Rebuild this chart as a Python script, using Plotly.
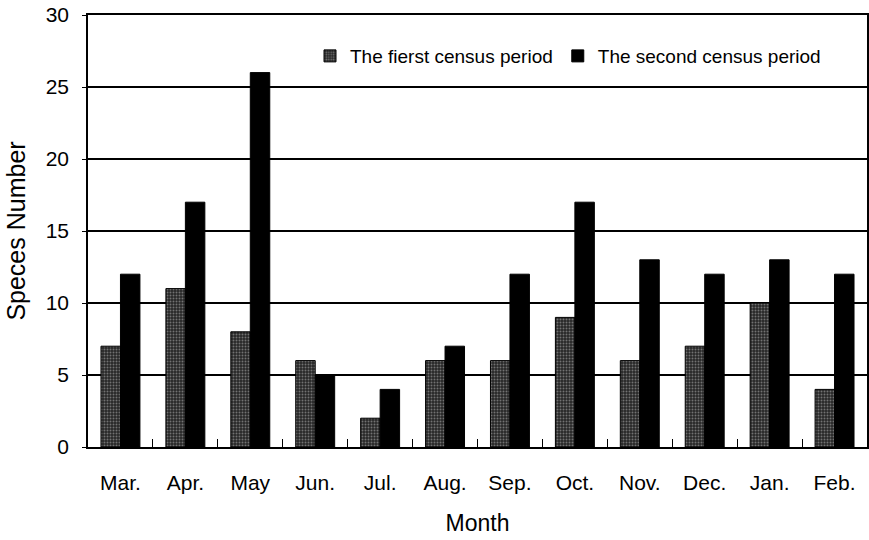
import plotly.graph_objects as go

months = ["Mar.", "Apr.", "May", "Jun.", "Jul.", "Aug.", "Sep.", "Oct.", "Nov.", "Dec.", "Jan.", "Feb."]
first_period = [7, 11, 8, 6, 2, 6, 6, 9, 6, 7, 10, 4]
second_period = [12, 17, 26, 5, 4, 7, 12, 17, 13, 12, 13, 12]
y_ticks = [0, 5, 10, 15, 20, 25, 30]

FONT = "Liberation Sans, Arial, sans-serif"

fig = go.Figure()
fig.add_trace(go.Bar(
    x=months, y=first_period, name="The fierst census period",
    marker=dict(color="#333333", line=dict(color="black", width=1),
                pattern=dict(shape=".", bgcolor="#262626", fgcolor="#bdbdbd",
                             size=3, solidity=0.35, fillmode="overlay")),
))
fig.add_trace(go.Bar(
    x=months, y=second_period, name="The second census period",
    marker=dict(color="black", line=dict(color="black", width=1)),
))

fig.update_layout(
    width=869, height=540,
    margin=dict(l=88, r=2, t=15, b=93, autoexpand=False),
    paper_bgcolor="white", plot_bgcolor="white",
    barmode="group", bargap=0.4, bargroupgap=0,
    font=dict(family=FONT, size=21, color="black"),
    legend=dict(orientation="h", x=0.285, y=0.905, xanchor="left", yanchor="middle",
                bgcolor="rgba(0,0,0,0)", font=dict(size=19, family=FONT),
                itemwidth=30, traceorder="normal"),
    xaxis=dict(
        title=dict(text="Month", font=dict(size=23), standoff=22),
        showline=True, linecolor="black", linewidth=1.5, mirror=True,
        ticks="inside", ticklen=8, tickcolor="black", tickson="boundaries",
        tickfont=dict(size=21), ticklabelstandoff=16, automargin=False,
    ),
    yaxis=dict(
        title=dict(text="Speces Number", font=dict(size=25), standoff=13),
        range=[0, 30], tickvals=y_ticks,
        showline=True, linecolor="black", linewidth=1.5, mirror=True,
        showgrid=True, gridcolor="black", gridwidth=1.5,
        ticks="outside", ticklen=4, tickcolor="black",
        tickfont=dict(size=21), ticklabelstandoff=9, zeroline=False, automargin=False,
    ),
)

fig.write_html("out.html", config={"displayModeBar": False},
               post_script="document.body.style.margin='0';")
